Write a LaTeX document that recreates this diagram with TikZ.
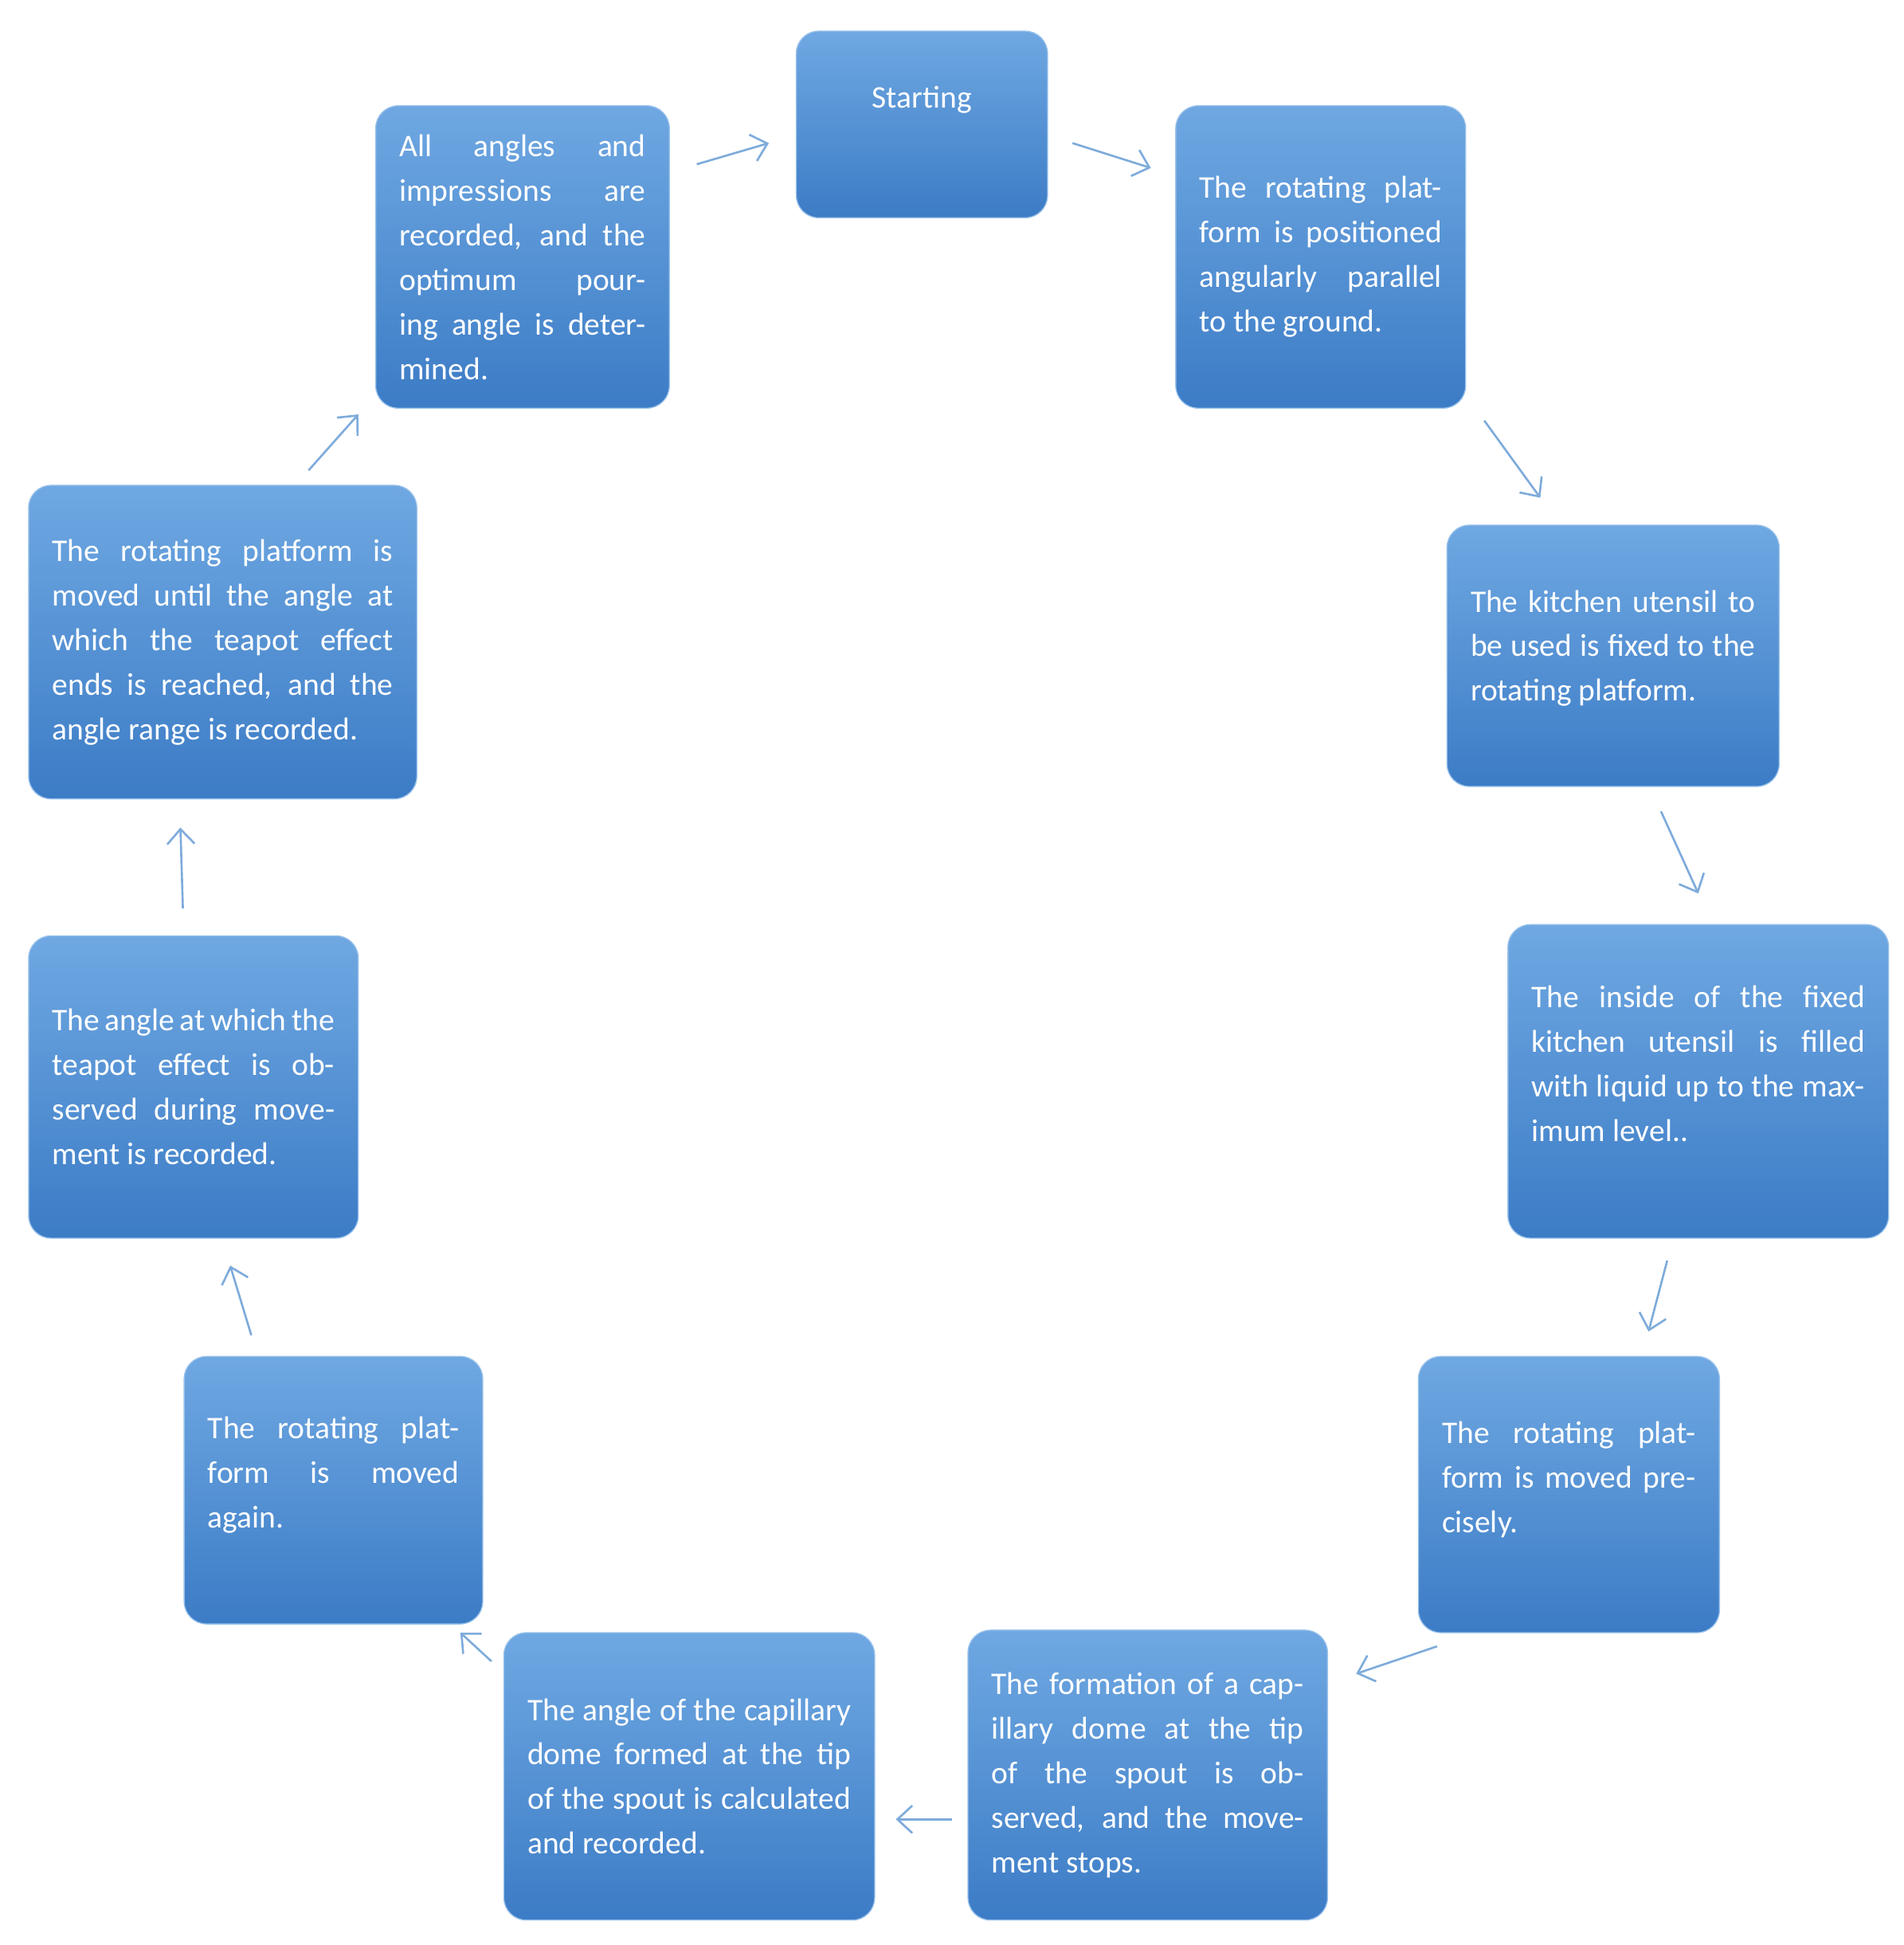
\documentclass[tikz,border=0pt]{standalone}
\usepackage{fontspec}
\setmainfont{Carlito}
\usetikzlibrary{arrows.meta}
\definecolor{bxtop}{HTML}{6FA8E2}
\definecolor{bxbot}{HTML}{3C7CC6}
\definecolor{arc}{HTML}{7EABDB}
\begin{document}
\begin{tikzpicture}[x=0.05cm,y=-0.05cm,
  box/.style={rounded corners=0.9cm, top color=bxtop, bottom color=bxbot, draw=bxtop!70!white, line width=1.2pt,
     text=white, font=\fontsize{36}{51}\selectfont, align=justify, inner sep=0pt},
  arr/.style={arc, line width=2.4pt, -{Straight Barb[length=0.6cm,width=1.1cm]}}]
\useasboundingbox (0,0) rectangle (1530,1563);
\newcommand{\bx}[6]{% name x1 y1 x2 y2 text
  \node[box, minimum width={(#4-#2)*0.05cm}, minimum height={(#5-#3)*0.05cm}, text width={(#4-#2-38)*0.05cm}]
   (#1) at ({(#2+#4)/2},{(#3+#5)/2}) {#6};}
\node[box, minimum width=10.1cm, minimum height=7.5cm, text width=9cm, align=center] (s) at (741,100) {\raisebox{2.2cm}{Starting}};
\bx{b1}{945}{85}{1178}{328}{The rotating platform is positioned angularly parallel to the ground.}
\bx{b2}{1163}{422}{1430}{632}{The kitchen utensil to be used is fixed to the rotating platform.\par\vspace{0.6cm}}
\bx{b3}{1212}{743}{1518}{995}{The inside of the fixed kitchen utensil is filled with liquid up to the maximum level..\par\vspace{1.4cm}}
\bx{b4}{1140}{1090}{1382}{1312}{The rotating platform is moved precisely.\par\vspace{1.2cm}}
\bx{b5}{778}{1310}{1067}{1543}{The formation of a capillary dome at the tip of the spout is observed, and the movement stops.}
\bx{b6}{405}{1312}{703}{1543}{The angle of the capillary dome formed at the tip of the spout is calculated and recorded.}
\bx{b7}{148}{1090}{388}{1305}{The rotating platform is moved again.\par\vspace{1.2cm}}
\bx{b8}{23}{752}{288}{995}{The angle at which the teapot effect is observed during movement is recorded.}
\bx{b9}{23}{390}{335}{642}{The rotating platform is moved until the angle at which the teapot effect ends is reached, and the angle range is recorded.}
\bx{b10}{302}{85}{538}{328}{All angles and impressions are recorded, and the optimum pouring angle is determined.}
\foreach \n/\a/\b/\c/\d in {a0/560/132/618/115, a1/862/115/925/135, a2/1193/338/1238/400, a3/1335/652/1365/718,
  a4/1340/1013/1325/1070, a5/1155/1323/1090/1345, a6/765/1462/720/1462, a7/395/1335/370/1312,
  a8/202/1073/185/1017, a9/147/730/145/665, a10/248/378/288/333}{
  \coordinate (\n s) at (\a,\b); \coordinate (\n e) at (\c,\d);
  \draw[arr] (\n s) -- (\n e);}
\end{tikzpicture}
\end{document}
